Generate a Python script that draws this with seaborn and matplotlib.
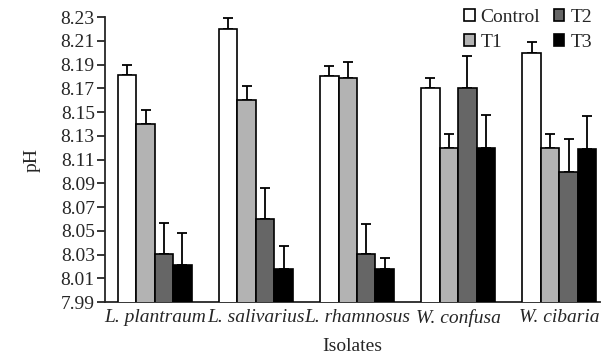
import pandas as pd
import matplotlib.pyplot as plt
import seaborn as sns

# Data
isolates = ["L. plantraum", "L. salivarius", "L. rhamnosus", "W. confusa", "W. cibaria"]
treatments = ["Control", "T1", "T2", "T3"]

control = [8.181, 8.220, 8.180, 8.170, 8.200]
t1 = [8.140, 8.160, 8.179, 8.120, 8.120]
t2 = [8.031, 8.060, 8.031, 8.170, 8.100]
t3 = [8.021, 8.018, 8.018, 8.120, 8.119]

control_err = [0.009, 0.009, 0.009, 0.009, 0.009]
t1_err = [0.012, 0.012, 0.013, 0.012, 0.012]
t2_err = [0.026, 0.026, 0.025, 0.027, 0.027]
t3_err = [0.027, 0.019, 0.009, 0.028, 0.028]

colors = ["#ffffff", "#b3b3b3", "#666666", "#000000"]

rows = []
for t, vals, errs in zip(treatments, [control, t1, t2, t3],
                         [control_err, t1_err, t2_err, t3_err]):
    for iso, v, e in zip(isolates, vals, errs):
        rows.append({"Isolate": iso, "Treatment": t, "pH": v, "err": e})
df = pd.DataFrame(rows)

sns.set_style("ticks")
plt.rcParams['font.family'] = ['Liberation Serif', 'DejaVu Serif']

fig, ax = plt.subplots(figsize=(6.01, 3.56), dpi=100)
fig.subplots_adjust(left=0.175, right=0.998, top=0.952, bottom=0.151)

sns.barplot(data=df, x="Isolate", y="pH", hue="Treatment",
            palette=colors, width=0.73, errorbar=None,
            edgecolor="black", linewidth=1.2, ax=ax, zorder=3)

# error bars (upper side only visible)
for t, cont in zip(treatments, ax.containers):
    sub = df[df["Treatment"] == t]
    for patch, (_, r) in zip(cont.patches, sub.iterrows()):
        xc = patch.get_x() + patch.get_width() / 2
        ax.errorbar(xc, r["pH"], yerr=[[0], [r["err"]]], color="black",
                    capsize=3.5, elinewidth=1.3, capthick=1.3, zorder=2)

ax.set_ylim(7.99, 8.23)
ticks = [7.99 + 0.02 * i for i in range(13)]
ax.set_yticks(ticks)
ax.set_yticklabels([f"{v:.2f}" for v in ticks], fontsize=14)
ax.set_xlim(-0.49, 4.4)
ax.tick_params(axis="x", length=0, labelsize=14, pad=5)
ax.tick_params(axis="y", direction="out", length=5.5, width=1.3, pad=2)
for lbl in ax.get_xticklabels():
    lbl.set_fontstyle("italic")
ax.set_xlabel("Isolates", fontsize=14, labelpad=8)
ax.set_ylabel("pH", fontsize=14, labelpad=14)
sns.despine(ax=ax)
ax.spines["left"].set_linewidth(1.3)
ax.spines["bottom"].set_linewidth(1.3)

ax.legend(loc="upper right", ncol=2, frameon=False, fontsize=14,
          handlelength=0.55, handleheight=0.55, handletextpad=0.3,
          columnspacing=0.7, labelspacing=0.4, borderaxespad=0.0,
          bbox_to_anchor=(1.0, 1.055))

plt.savefig("out.png", dpi=100)
